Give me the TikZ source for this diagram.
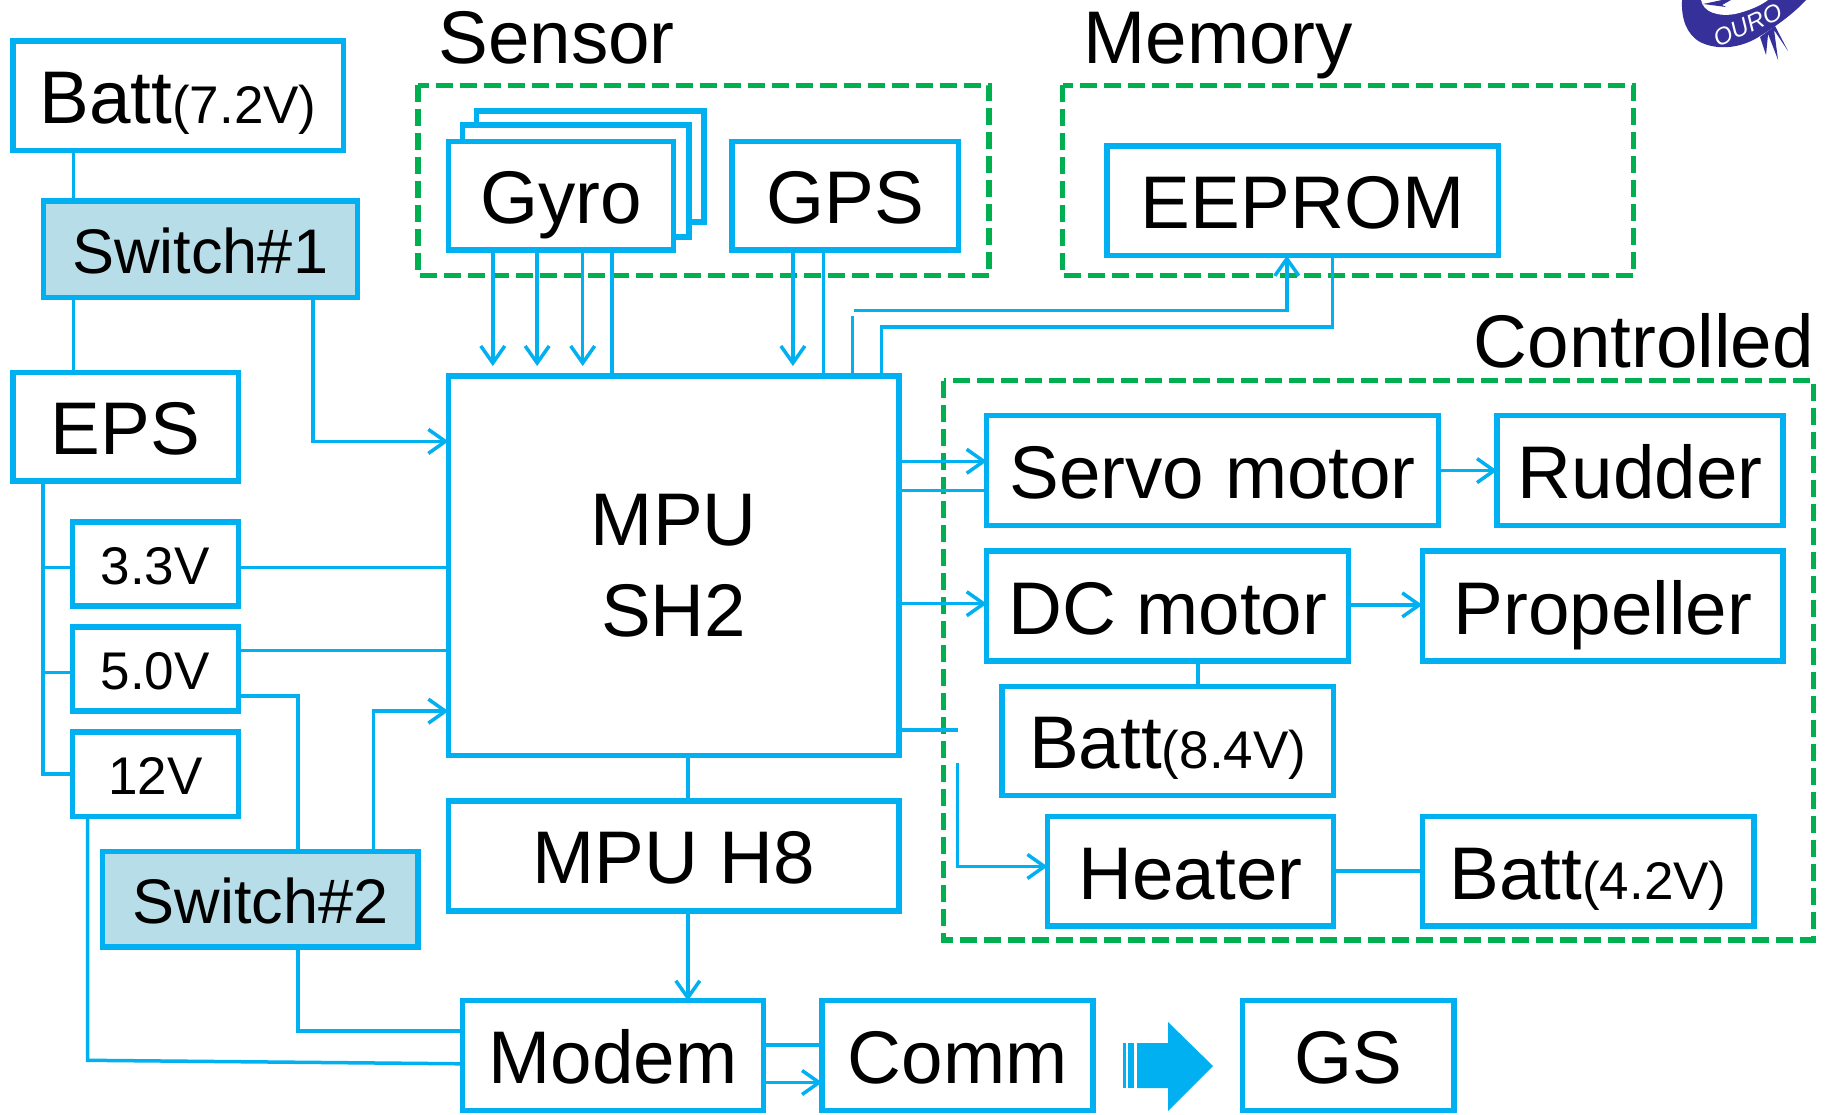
\documentclass[tikz,border=0pt]{standalone}
\usepackage{fontspec}
\setmainfont{Liberation Sans}
\usetikzlibrary{arrows.meta}
\definecolor{bl}{HTML}{00B0F0}
\definecolor{gr}{HTML}{00B050}
\definecolor{sw}{HTML}{B7DEE8}
\definecolor{logo}{HTML}{35309A}
\newcommand{\smt}[1]{{\fontsize{53}{55}\selectfont #1}}
\newcommand{\bx}[7][bigtext]{\node[boxn,#1,minimum width={(#5-#3)*1.1677pt},minimum height={(#6-#4)*1.1677pt}] (#2) at ({(#3+#5)/2},{(#4+#6)/2}) {#7};}
\tikzset{
  boxn/.style={draw=bl,line width=5.4pt,fill=white,inner sep=0pt,outer sep=0pt,text=black},
  bigtext/.style={font=\fontsize{74.6}{80}\selectfont,text height=56pt,text depth=0pt},
  midtext/.style={font=\fontsize{63}{66}\selectfont,text height=48pt,text depth=0pt},
  smalltext/.style={font=\fontsize{53}{55}\selectfont,text height=40pt,text depth=0pt},
  swbox/.style={midtext,fill=sw},
  twoline/.style={font=\fontsize{74.6}{91}\selectfont,align=center},
  conn/.style={draw=bl,line width=3.5pt},
  arr/.style={conn,-{Straight Barb[length=17pt,width=24pt,line width=3.5pt]}},
  group/.style={draw=gr,line width=5.2pt,dash pattern=on 17pt off 7pt},
  lab/.style={font=\fontsize{74.6}{80}\selectfont,inner sep=0pt,outer sep=0pt,anchor=base west},
  gap/.style={shorten >=10pt}
}
\begin{document}
\begin{tikzpicture}[x=1.1677pt,y=-1.1677pt]
\useasboundingbox[fill=white] (0,0) rectangle (1568,954);
% logo
\begin{scope}[x=1pt,y=-1pt]
\clip (0,0) rectangle (1831,1114);
\fill[logo] (1682,0) .. controls (1681,18) and (1686,34) .. (1700,42) .. controls (1718,51) and (1742,48) .. (1760,36) .. controls (1778,25) and (1795,12) .. (1806,0) -- cycle;
\fill[logo] (1760,37) -- (1766,55) -- (1768,34) -- (1778,60) -- (1774,30) -- (1788,51) -- (1775,26) -- cycle;
\fill[white] (1701,0) .. controls (1703,12) and (1718,17) .. (1735,14) .. controls (1748,11) and (1760,6) .. (1768,0) -- cycle;
\fill[logo] (1703,4) -- (1722,0) -- (1731,0) -- (1722,5) -- (1726,7) -- cycle;
\node[font=\fontsize{24}{26}\selectfont\itshape,text=white,rotate=25,inner sep=0pt] (ourologo) at (1748,25) {OURO};
\end{scope}
% group frames
\draw[group] (358,73) rectangle (847,236);
\draw[group] (910,73) rectangle (1399,236);
\draw[group] (808,326) rectangle (1553,805);
\node[lab] (lsensor) at (375.5,54) {Sensor};
\node[lab] (lmemory) at (928,54) {Memory};
\node[lab] (lcontrolled) at (1262,315) {Controlled};
% boxes
\bx{batt}{11}{35}{294}{129}{Batt\smt{(7.2V)}}
\bx[swbox]{swa}{37}{172}{306}{255}{Switch\#1}
\bx{eps}{11}{319}{204}{412}{EPS}
\bx[smalltext]{vthree}{62}{447}{204}{519}{3.3V}
\bx[smalltext]{vfive}{62}{537}{204}{609}{5.0V}
\bx[smalltext]{vtwelve}{62}{627}{204}{699}{12V}
\bx[swbox]{swb}{88}{729}{358}{811}{Switch\#2}
\bx[twoline]{mpu}{384}{322}{770}{647}{MPU\\SH2}
\bx{hes}{384}{686}{770}{780}{MPU H8}
\bx{modem}{396}{857}{654}{951}{Modem}
\bx{comm}{704}{857}{936}{951}{Comm}
\bx{gs}{1064}{857}{1245}{951}{GS}
\bx{gyroc}{408}{95}{603}{190}{}
\bx{gyrob}{396}{107}{590}{203}{}
\bx{gyro}{384}{121}{577}{214}{Gyro}
\bx{gps}{627}{121}{821}{214}{GPS}
\bx{eeprom}{948}{125}{1283}{219}{EEPROM}
\bx{servo}{845}{356}{1232}{450}{Servo motor}
\bx{rudder}{1282}{356}{1527}{450}{Rudder}
\bx{dc}{845}{472}{1155}{566}{DC motor}
\bx{prop}{1218}{472}{1527}{566}{Propeller}
\bx{batteight}{858}{588}{1142}{681}{Batt\smt{(8.4V)}}
\bx{heater}{897}{699}{1142}{793}{Heater}
\bx{battfour}{1218}{699}{1502}{793}{Batt\smt{(4.2V)}}
% free ends
\coordinate (memup) at (731,266);
\coordinate (memstub) at (730,271);
\coordinate (heatout) at (820,625);
\coordinate (heatin) at (820,653);
% power
\draw[conn] (63,0 |- batt.south) -- (63,0 |- swa.north);
\draw[conn] (63,0 |- swa.south) -- (63,0 |- eps.north);
\draw[arr] (268,0 |- swa.south) -- (268,378) -- (mpu.west |- 0,378);
\draw[conn] (37,0 |- eps.south) -- (37,663) -- (vtwelve.west |- 0,663);
\draw[conn] (37,486) -- (vthree.west |- 0,486);
\draw[conn] (37,576) -- (vfive.west |- 0,576);
\draw[conn] (vthree.east |- 0,486) -- (mpu.west |- 0,486);
\draw[conn] (vfive.east |- 0,557) -- (mpu.west |- 0,557);
\draw[conn] (vfive.east |- 0,596) -- (255,596) -- (255,0 |- swb.north);
\draw[arr] (320,0 |- swb.north) -- (320,609) -- (mpu.west |- 0,609);
\draw[conn] (75,0 |- vtwelve.south) -- (75,908) -- (modem.west |- 0,911);
\draw[conn] (255,0 |- swb.south) -- (255,883) -- (modem.west |- 0,883);
% sensors
\foreach \xx in {422,460,499} \draw[arr,gap] (\xx,0 |- gyro.south) -- (\xx,0 |- mpu.north);
\draw[conn] (524,0 |- gyro.south) -- (524,0 |- mpu.north);
\draw[arr,gap] (679,0 |- gps.south) -- (679,0 |- mpu.north);
\draw[conn] (705,0 |- gps.south) -- (705,0 |- mpu.north);
% memory
\draw[conn] (730,0 |- mpu.north) -- (memstub);
\draw[arr] (memup) -- (1102,266) -- (1102,0 |- eeprom.south);
\draw[conn] (755,0 |- mpu.north) -- (755,280) -- (1141,280) -- (1141,0 |- eeprom.south);
% controlled
\draw[arr] (mpu.east |- 0,395) -- (servo.west |- 0,395);
\draw[conn] (mpu.east |- 0,420) -- (servo.west |- 0,420);
\draw[arr] (mpu.east |- 0,517) -- (dc.west |- 0,517);
\draw[conn] (mpu.east |- 0,625) -- (heatout);
\draw[arr] (heatin) -- (820,742) -- (heater.west |- 0,742);
\draw[arr] (servo.east |- 0,403) -- (rudder.west |- 0,403);
\draw[arr] (dc.east |- 0,518) -- (prop.west |- 0,518);
\draw[conn] (1026,0 |- dc.south) -- (1026,0 |- batteight.north);
\draw[conn] (heater.east |- 0,746) -- (battfour.west |- 0,746);
% bottom
\draw[conn] (589,0 |- mpu.south) -- (589,0 |- hes.north);
\draw[arr] (589,0 |- hes.south) -- (589,0 |- modem.north);
\draw[conn] (modem.east |- 0,895) -- (comm.west |- 0,895);
\draw[arr] (modem.east |- 0,927) -- (comm.west |- 0,927);
% block arrow
\begin{scope}[x=1pt,y=-1pt]
\fill[bl] (1137,1043) -- (1168,1043) -- (1168,1022) -- (1213,1066) -- (1168,1111) -- (1168,1088) -- (1137,1088) -- cycle;
\fill[bl] (1123,1043) rectangle (1126,1088);
\fill[bl] (1128,1043) rectangle (1134,1088);
\end{scope}
\end{tikzpicture}
\end{document}
